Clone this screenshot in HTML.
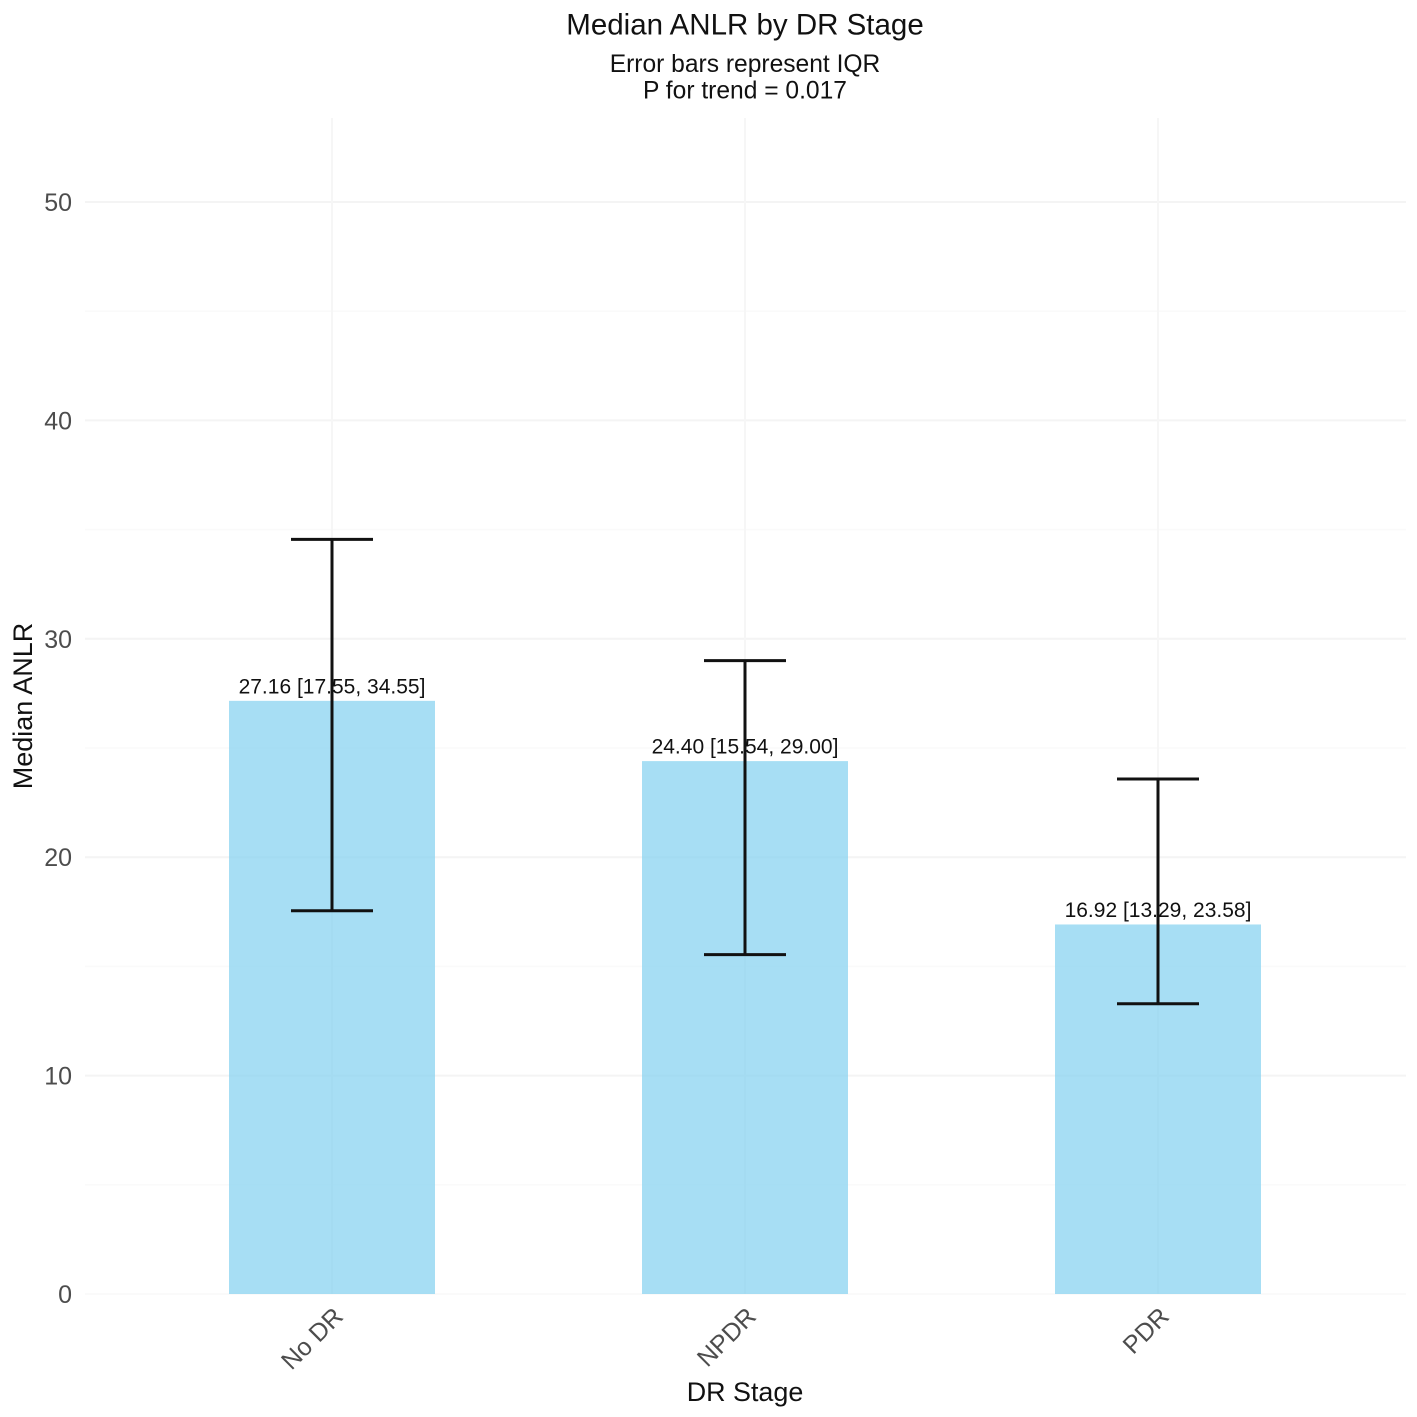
<!DOCTYPE html>
<html>
<head>
<meta charset="utf-8">
<style>
html,body{margin:0;padding:0;background:#fff}
svg{display:block;font-family:"Liberation Sans",Arial,sans-serif}
</style>
</head>
<body>
<svg id="chart" xmlns="http://www.w3.org/2000/svg" width="1417" height="1417" viewBox="0 0 1417 1417">
<rect x="0" y="0" width="1417" height="1417" fill="#ffffff"/>
<g id="grid"></g>
<g id="bars"></g>
<g id="value-labels"></g>
<g id="errors"></g>
<g id="y-ticks"></g>
<g id="x-ticks"></g>
<text x="745" y="34.5" text-anchor="middle" font-size="29.5" fill="#111">Median ANLR by DR Stage</text>
<text x="745" y="72" text-anchor="middle" font-size="24.6" fill="#111">Error bars represent IQR</text>
<text x="745" y="98.5" text-anchor="middle" font-size="24.6" fill="#111">P for trend = 0.017</text>
<text x="745" y="1401" text-anchor="middle" font-size="26.9" fill="#111">DR Stage</text>
<text transform="translate(32,706) rotate(-90)" text-anchor="middle" font-size="27" fill="#111">Median ANLR</text>
</svg>
<script>
const categories = ["No DR", "NPDR", "PDR"];
const medians = [27.16, 24.40, 16.92];
const q1 = [17.55, 15.54, 13.29];
const q3 = [34.55, 29.00, 23.58];
const valueLabels = ["27.16 [17.55, 34.55]", "24.40 [15.54, 29.00]", "16.92 [13.29, 23.58]"];
const yTicks = [0, 10, 20, 30, 40, 50];
const yMinorTicks = [5, 15, 25, 35, 45];

const NS = "http://www.w3.org/2000/svg";
const panel = { left: 85, right: 1406, top: 118, bottom: 1294 };
const xStep = 413;
const xFirst = 332;
const yUnit = 21.84;
const barWidth = 206;
const capWidth = 82;

function xScale(i) { return xFirst + i * xStep; }
function yScale(v) { return panel.bottom - v * yUnit; }
function make(tag, attrs, parent, text) {
  const el = document.createElementNS(NS, tag);
  for (const k in attrs) el.setAttribute(k, attrs[k]);
  if (text !== undefined) el.textContent = text;
  parent.appendChild(el);
  return el;
}

const grid = document.getElementById("grid");
const bars = document.getElementById("bars");
const labels = document.getElementById("value-labels");
const errors = document.getElementById("errors");
const yTickGroup = document.getElementById("y-ticks");
const xTickGroup = document.getElementById("x-ticks");

yMinorTicks.forEach(function (v) {
  const l = make("line", { x1: panel.left, x2: panel.right, y1: yScale(v), y2: yScale(v), stroke: "#fafafa", "stroke-width": 1.5 }, grid);
  
  
});
yTicks.forEach(function (v) {
  const l = make("line", { x1: panel.left, x2: panel.right, y1: yScale(v), y2: yScale(v), stroke: v === 0 ? "#fafafa" : "#f4f4f4", "stroke-width": 2 }, grid);
  
  
  const t = make("text", { x: 72, y: yScale(v) + 9, "text-anchor": "end", "font-size": 25, fill: "#4d4d4d" }, yTickGroup, String(v));
  
  
});
categories.forEach(function (c, i) {
  const x = xScale(i);
  const g = make("line", { x1: x, x2: x, y1: panel.top, y2: panel.bottom, stroke: "#f6f6f6", "stroke-width": 2 }, grid);
  
  

  const b = make("rect", { x: x - barWidth / 2, y: yScale(medians[i]), width: barWidth, height: yScale(0) - yScale(medians[i]), fill: "#82d0ef", "fill-opacity": 0.7 }, bars);
  
  

  const vt = make("text", { x: x, y: yScale(medians[i]) - 7.5, "text-anchor": "middle", "font-size": 21, fill: "#111" }, labels, valueLabels[i]);
  
  

  const stem = make("line", { x1: x, x2: x, y1: yScale(q3[i]), y2: yScale(q1[i]), stroke: "#111", "stroke-width": 3 }, errors);
  
  
  const capTop = make("line", { x1: x - capWidth / 2, x2: x + capWidth / 2, y1: yScale(q3[i]), y2: yScale(q3[i]), stroke: "#111", "stroke-width": 3 }, errors);
  
  
  const capBottom = make("line", { x1: x - capWidth / 2, x2: x + capWidth / 2, y1: yScale(q1[i]), y2: yScale(q1[i]), stroke: "#111", "stroke-width": 3 }, errors);
  
  

  const xt = make("text", { transform: "translate(" + (x + 12.5) + ",1318) rotate(-45)", "text-anchor": "end", "font-size": 25, fill: "#4d4d4d" }, xTickGroup, c);
  
  
});
</script>
</body>
</html>
